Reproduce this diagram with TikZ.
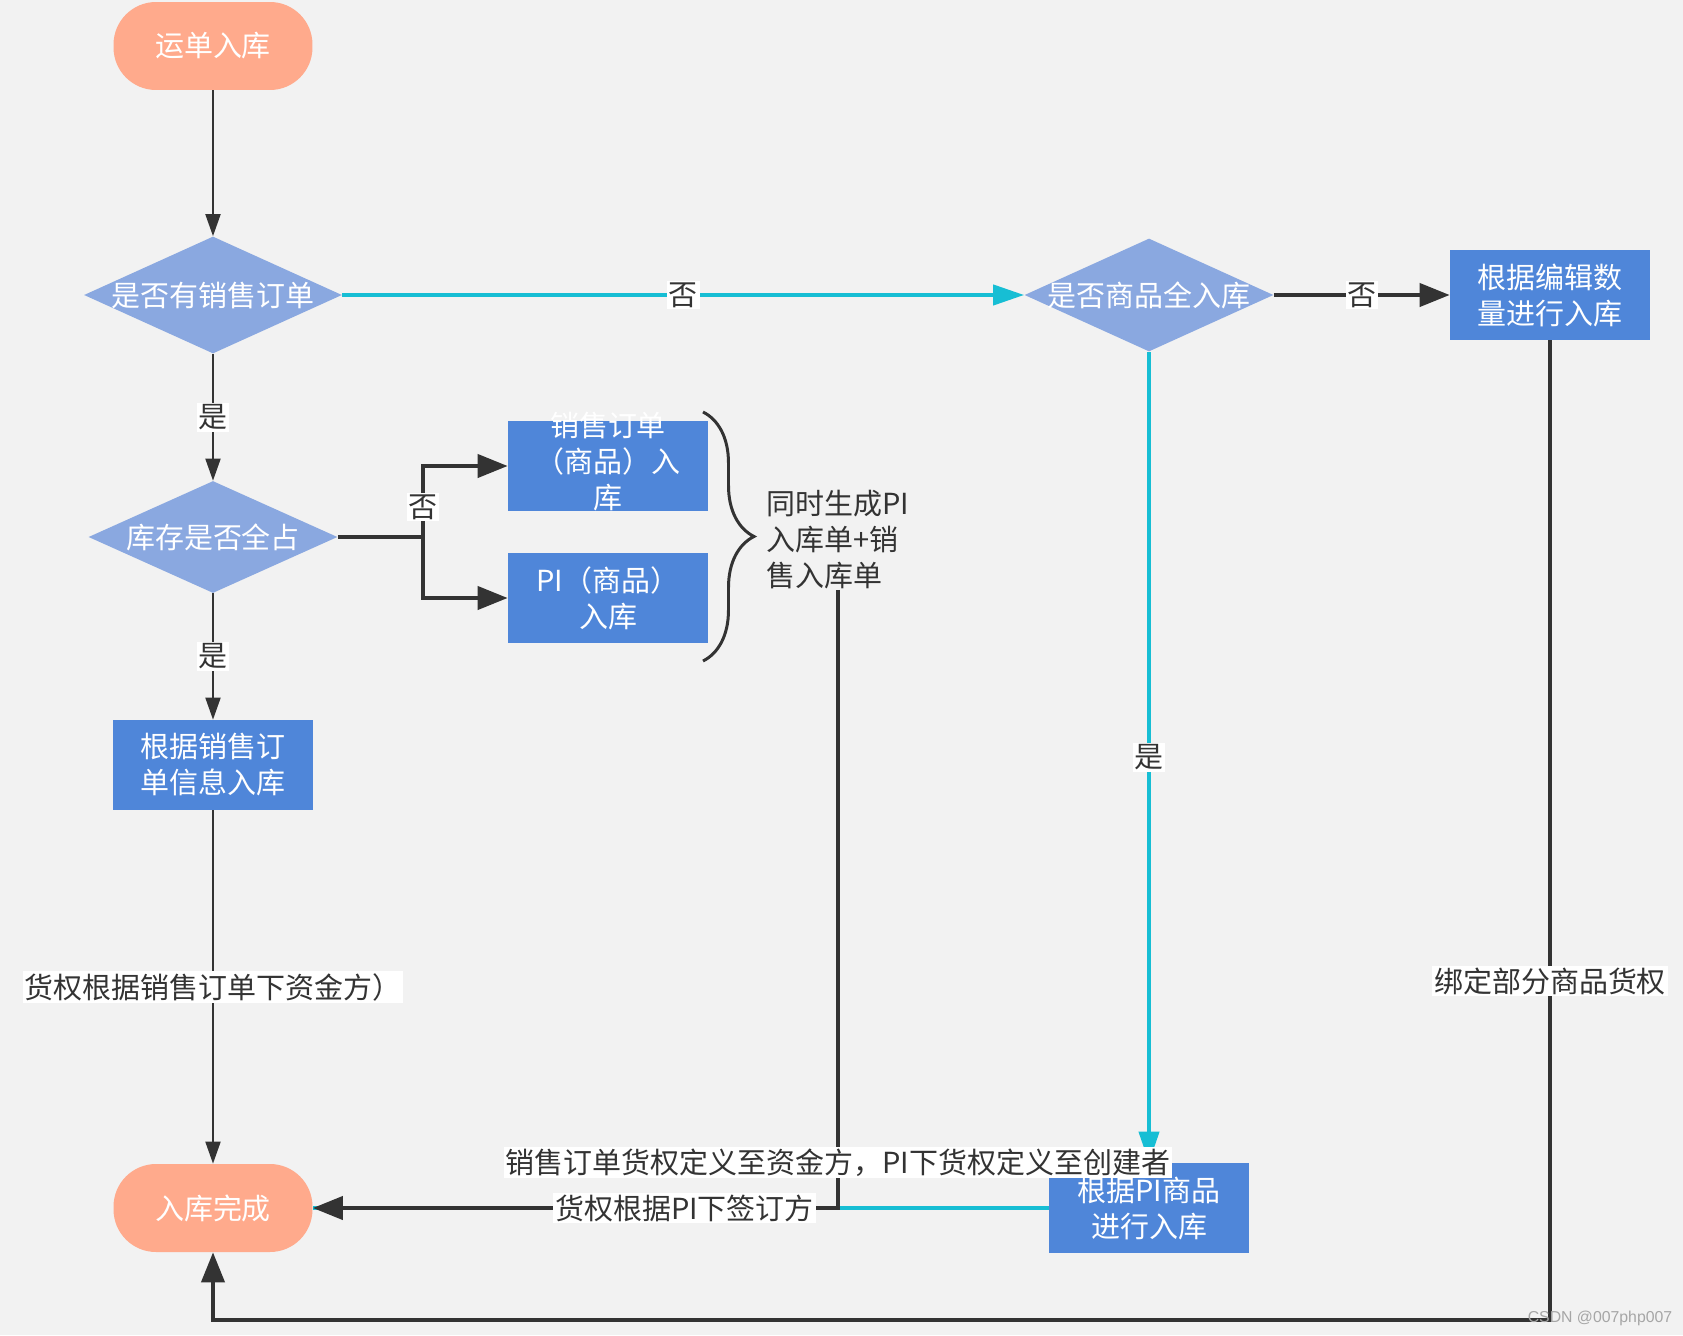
\documentclass[tikz,border=0pt]{standalone}
\usepackage{fontspec}
\setmainfont{Noto Sans CJK SC}
\newfontfamily\wmfont{Liberation Sans}
\usetikzlibrary{shapes.geometric,arrows.meta,decorations.pathreplacing}

\definecolor{bgcol}{HTML}{F2F2F2}
\definecolor{termcol}{HTML}{FFAA8C}
\definecolor{deccol}{HTML}{8AA8E0}
\definecolor{boxcol}{HTML}{4F86D9}
\definecolor{flowcyan}{HTML}{17BED4}
\definecolor{darkline}{HTML}{333333}

% text that may run out of its box
\newcommand{\squeeze}[1]{\smash{\raisebox{-0.25em}{\begin{tabular}[c]{@{}c@{}}#1\end{tabular}}}}

\tikzset{
  terminal/.style={rectangle, rounded corners=0.85cm, fill=termcol, text=white,
    minimum width=3.98cm, minimum height=1.76cm},
  decision/.style={diamond, fill=deccol, text=white, inner sep=0pt},
  process/.style={rectangle, fill=boxcol, text=white, minimum width=4cm,
    minimum height=1.8cm, align=center},
  lbl/.style={fill=white, text=darkline, inner sep=1pt},
  thinarrow/.style={draw=darkline, line width=1.1pt, -{Triangle[length=0.44cm,width=0.3cm]}},
  thickarrow/.style={draw=darkline, line width=2.3pt, -{Triangle[length=0.6cm,width=0.46cm]}},
  cyanarrow/.style={draw=flowcyan, line width=2.3pt, -{Triangle[length=0.62cm,width=0.4cm]}},
}

\begin{document}
\begin{tikzpicture}[x=0.02cm, y=-0.02cm, font=\fontsize{16.5}{20.5}\selectfont]
  \fill[bgcol] (0,0) rectangle (1683,1335);
  \useasboundingbox (0,0) rectangle (1683,1335);

  % nodes
  \node[terminal] (start) at (213,46) {运单入库};
  \node[decision, minimum width=5.16cm, minimum height=2.34cm] (hasso) at (213,295) {\makebox[0pt]{是否有销售订单}};
  \node[decision, minimum width=4.98cm, minimum height=2.26cm] (allin) at (1149,295) {\makebox[0pt]{是否商品全入库}};
  \node[process] (editbox) at (1550,295) {根据编辑数\\量进行入库};
  \node[decision, minimum width=4.98cm, minimum height=2.24cm] (stock) at (213,537) {\makebox[0pt]{库存是否全占}};
  \node[process] (soin) at (608,466) {\squeeze{销售订单\\（商品）入\\库}};
  \node[process] (piin) at (608,598) {PI（商品）\\入库};
  \node[text=darkline, align=left, anchor=west, inner sep=0pt] (both) at (766,540) {同时生成PI\\入库单+销\\售入库单};
  \node[process] (soinfo) at (213,765) {根据销售订\\单信息入库};
  \node[terminal] (done) at (213,1208) {入库完成};
  \node[process] (pibox) at (1149,1208) {根据PI商品\\进行入库};

  \coordinate (brtop) at (703,412);
  \coordinate (brbot) at (703,661);
  \draw[darkline, line width=1.7pt, decorate, decoration={brace, amplitude=1.02cm}] (brtop) -- (brbot);

  % connectors
  \draw[thinarrow] (start.south) -- (hasso.north);
  \draw[cyanarrow] (hasso.east) -- node[lbl]{否} (allin.west);
  \draw[thickarrow] (allin.east) -- node[lbl]{否} (editbox.west);
  \draw[thinarrow] (hasso.south) -- node[lbl]{是} (stock.north);

  \coordinate (fork) at (423,537);
  \draw[darkline, line width=2.3pt] (stock.east) -- (fork);
  \draw[thickarrow] (fork) |- node[lbl, pos=0.21]{否} (soin.west);
  \draw[thickarrow] (fork) |- (piin.west);

  \draw[thinarrow] (stock.south) -- node[lbl]{是} (soinfo.north);
  \draw[thinarrow] (soinfo.south) -- node[lbl]{货权根据销售订单下资金方）} (done.north);
  \draw[cyanarrow] (allin.south) -- node[lbl]{是} (pibox.north);
  \draw[flowcyan, line width=2.3pt] (pibox.west) -- (done.east);
  \draw[thickarrow] (both.south) |- node[lbl, pos=0.463]{销售订单货权定义至资金方，PI下货权定义至创建者}
    node[lbl, pos=0.646]{货权根据PI下签订方} (done.east);

  \coordinate (bot) at (213,1320);
  \draw[thickarrow] (editbox.south) |- node[lbl, pos=0.327]{绑定部分商品货权} (bot) -- (done.south);

  \node[text=gray!70, font=\wmfont\fontsize{9}{10}\selectfont] (mark) at (1600,1318) {CSDN @007php007};
\end{tikzpicture}
\end{document}
